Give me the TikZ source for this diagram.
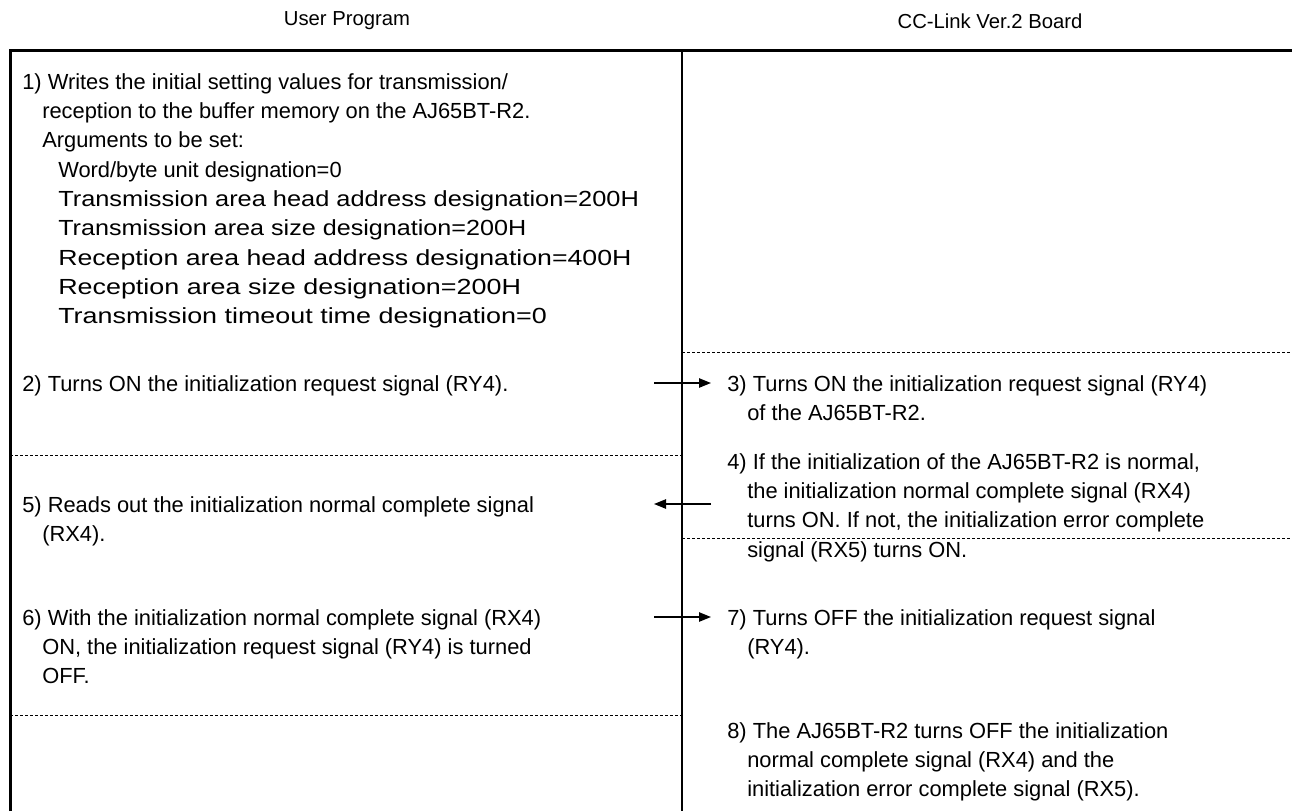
\documentclass[tikz,border=0pt]{standalone}
\usepackage{fontspec}
\usepackage{graphicx}
\setmainfont{Liberation Sans}
\usetikzlibrary{arrows.meta,positioning}

\newcommand{\ind}{\hspace*{15pt}}
\newcommand{\subind}{\hspace*{27pt}}
% argument line, stretched as in the manual
\newcommand{\setting}[2][1]{\subind\scalebox{#1}[1]{#2}}

\begin{document}
\begin{tikzpicture}[
    x=0.75pt, y=-0.75pt,
    head/.style={font=\fontsize{15.2}{18}\selectfont, inner sep=0},
    txt/.style={anchor=north west, align=left, inner sep=0, font=\fontsize{16.4}{22}\selectfont},
    frame/.style={line width=2.25pt},
    divider/.style={line width=1.1pt},
    sep/.style={line width=0.6pt, dash pattern=on 2.25pt off 1.5pt},
    flow/.style={-{Triangle[length=9pt,width=7pt]}, line width=1.1pt}
  ]
    \useasboundingbox (0,0) rectangle (1292,811);

    % Column headings
    \node[head] (user) at (347,21) {User Program};
    \node[head] (board) at (990,21) {CC-Link Ver.2 Board};

    % Frame and column divider
    \draw[frame] (10,811) -- (10,50) -- (1292,50);
    \draw[divider] (682,50) -- (682,811);

    % Step separators
    \draw[sep] (682,352) -- (1292,352);
    \draw[sep] (10,455) -- (682,455);
    \draw[sep] (682,538) -- (1292,538);
    \draw[sep] (10,715) -- (682,715);

    % Left column: user program
    \node[txt] (write) at (22,73) {1) Writes the initial setting values for transmission/\\
      \ind reception to the buffer memory on the AJ65BT-R2.\\
      \ind Arguments to be set:\\
      \setting{Word/byte unit designation=0}\\
      \setting[1.16]{Transmission area head address designation=200H}\\
      \setting[1.15]{Transmission area size designation=200H}\\
      \setting[1.22]{Reception area head address designation=400H}\\
      \setting[1.23]{Reception area size designation=200H}\\
      \setting[1.23]{Transmission timeout time designation=0}};
    \node[txt] (req) at (22,375) {2) Turns ON the initialization request signal (RY4).};
    \node[txt] (read) at (22,496) {5) Reads out the initialization normal complete signal\\
      \ind (RX4).};
    \node[txt] (off) at (22,609) {6) With the initialization normal complete signal (RX4)\\
      \ind ON, the initialization request signal (RY4) is turned\\
      \ind OFF.};

    % Right column: CC-Link board
    \node[txt] (boardreq) at (727,375) {3) Turns ON the initialization request signal (RY4)\\
      \ind of the AJ65BT-R2.};
    \node[txt] (done) at (727,453) {4) If the initialization of the AJ65BT-R2 is normal,\\
      \ind the initialization normal complete signal (RX4)\\
      \ind turns ON. If not, the initialization error complete\\
      \ind signal (RX5) turns ON.};
    \node[txt] (boardoff) at (727,609) {7) Turns OFF the initialization request signal\\
      \ind (RY4).};
    \node[txt] (clear) at (727,722) {8) The AJ65BT-R2 turns OFF the initialization\\
      \ind normal complete signal (RX4) and the\\
      \ind initialization error complete signal (RX5).};

    % Signal arrows across the divider
    \coordinate (s1) at (654,383);
    \coordinate (e1) at (711,383);
    \coordinate (s2) at (711,504);
    \coordinate (e2) at (654,504);
    \coordinate (s3) at (654,617);
    \coordinate (e3) at (711,617);
    \draw[flow] (s1) -- (e1);
    \draw[flow] (s2) -- (e2);
    \draw[flow] (s3) -- (e3);
  \end{tikzpicture}
\end{document}
